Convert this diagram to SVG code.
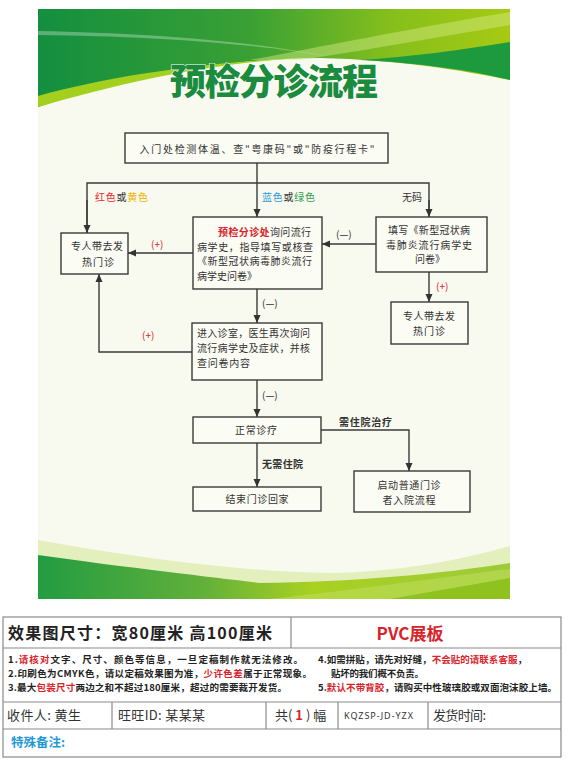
<svg xmlns="http://www.w3.org/2000/svg" width="570" height="764" viewBox="0 0 570 764">
<style>
.bx{fill:#fbfcf4;stroke:#3a3a3a;stroke-width:1.4}
.ln{fill:none;stroke:#3a3a3a;stroke-width:1.4}
.t{font-family:"Noto Sans CJK SC","Noto Sans",sans-serif;font-size:10px;fill:#333}
.c{text-anchor:middle}
.b{font-weight:bold}
.red{fill:#d9232a}
.tb{fill:none;stroke:#8a8a8a;stroke-width:1.2}
.s{font-family:"Noto Sans CJK SC","Noto Sans",sans-serif;font-size:9.5px;font-weight:bold;fill:#222}
.r3{font-family:"Noto Sans CJK SC","Noto Sans",sans-serif;font-size:13px;fill:#333}
</style>
<defs>
<marker id="ar" markerUnits="userSpaceOnUse" markerWidth="8" markerHeight="8" refX="8" refY="4" orient="auto">
<path d="M0,0.5 L8,4 L0,7.5 Z" fill="#333"/>
</marker>
<linearGradient id="gTop" x1="38" y1="0" x2="510" y2="0" gradientUnits="userSpaceOnUse">
<stop offset="0" stop-color="#138f3f"/><stop offset="0.45" stop-color="#3aa034"/><stop offset="0.75" stop-color="#86bf1c"/><stop offset="1" stop-color="#a6ca12"/>
</linearGradient>
<linearGradient id="gBot" x1="38" y1="0" x2="510" y2="0" gradientUnits="userSpaceOnUse">
<stop offset="0" stop-color="#229c42"/><stop offset="0.35" stop-color="#62b03a"/><stop offset="0.58" stop-color="#a9d022"/><stop offset="1" stop-color="#9ccb38"/>
</linearGradient>
</defs>
<rect width="570" height="764" fill="#fff"/>
<g id="board">
<rect x="38" y="9" width="472" height="590" fill="#f8f9ef"/>
<path d="M38,9 H510 V80 C460,70 400,60 320,58 C220,58 120,80 38,107 Z" fill="url(#gTop)"/>
<path d="M510,12 C430,25 330,45 250,60 L300,60 C380,48 450,35 510,25 Z" fill="#d8ec8a" opacity="0.45"/>
<path d="M38,31 C150,33 260,42 330,57 C260,44 150,36 38,35 Z" fill="#ffffff" opacity="0.3"/>
<path d="M510,42 C460,50 410,57 360,60 C420,63 470,70 510,80 Z" fill="#1e9a3e"/>
<path d="M38,96 C110,76 200,63 300,58 C200,64 110,86 38,107 Z" fill="#a3d01e"/>
<path d="M38,540 C150,560 250,572 330,573 C400,572 460,560 510,546 V599 H38 Z" fill="#e4efbe"/>
<path d="M38,555 C130,568 220,578 260,583 C350,582 440,574 510,563 V599 H38 Z" fill="url(#gBot)"/>
<path d="M270,599 C370,588 450,576 510,569 V599 Z" fill="#bedc5a" opacity="0.6"/>
<path d="M390,599 L510,578 V599 Z" fill="#8fc21e"/>
<text x="274" y="95" class="c" font-family="Noto Sans CJK SC, sans-serif" font-size="36" font-weight="900" fill="#1b8b3e" stroke="#ffffff" stroke-width="1" paint-order="stroke" textLength="208">预检分诊流程</text>
</g>
<g id="connectors">
<line class="ln" x1="257" y1="163" x2="257" y2="217" marker-end="url(#ar)"/>
<polyline class="ln" points="87,233 87,183 429,183 429,217" />
<line class="ln" x1="87" y1="200" x2="87" y2="233" marker-end="url(#ar)"/>
<line class="ln" x1="429" y1="200" x2="429" y2="217" marker-end="url(#ar)"/>
<line class="ln" x1="193" y1="253" x2="128" y2="253" marker-end="url(#ar)"/>
<line class="ln" x1="376" y1="244" x2="322" y2="244" marker-end="url(#ar)"/>
<line class="ln" x1="429" y1="272" x2="429" y2="302" marker-end="url(#ar)"/>
<line class="ln" x1="257" y1="289" x2="257" y2="323" marker-end="url(#ar)"/>
<polyline class="ln" points="192,352 99,352 99,274" marker-end="url(#ar)"/>
<line class="ln" x1="257" y1="380" x2="257" y2="417" marker-end="url(#ar)"/>
<polyline class="ln" points="321,430 409,430 409,471" marker-end="url(#ar)"/>
<line class="ln" x1="257" y1="443" x2="257" y2="487" marker-end="url(#ar)"/>
<text class="t" x="95" y="201" textLength="53"><tspan fill="#e8262a">红色</tspan>或<tspan fill="#f0b400">黄色</tspan></text>
<text class="t" x="262" y="201" textLength="53"><tspan fill="#2a9ad8">蓝色</tspan>或<tspan fill="#2aa050">绿色</tspan></text>
<text class="t" x="402" y="201">无码</text>
<text class="t red" x="151" y="248">(+)</text>
<text class="t" x="336" y="238">(—)</text>
<text class="t red" x="436" y="290">(+)</text>
<text class="t" x="262" y="307">(—)</text>
<text class="t red" x="142" y="339">(+)</text>
<text class="t" x="262" y="399">(—)</text>
<text class="t b" x="339" y="426" textLength="53">需住院治疗</text>
<text class="t b" x="262" y="468" textLength="41">无需住院</text>
</g>
<g id="n-entry">
<rect class="bx" x="125" y="133" width="263" height="30"/>
<text class="t c" x="257" y="153" font-size="11.5" textLength="235">入门处检测体温、查"粤康码"或"防疫行程卡"</text>
</g>
<g id="n-fever1">
<rect class="bx" x="61" y="233" width="67" height="41"/>
<text class="t c" x="97" y="250" textLength="52">专人带去发</text>
<text class="t c" x="98" y="266" textLength="32">热门诊</text>
</g>
<g id="n-triage">
<rect class="bx" x="193" y="217" width="129" height="72"/>
<text class="t" x="218" y="236" textLength="93"><tspan class="b red">预检分诊处</tspan>询问流行</text>
<text class="t" x="197" y="250.5" textLength="116">病学史，指导填写或核查</text>
<text class="t" x="197" y="265" textLength="115">《新型冠状病毒肺炎流行</text>
<text class="t" x="197" y="279.5">病学史问卷》</text>
</g>
<g id="n-nocode">
<rect class="bx" x="376" y="217" width="111" height="55"/>
<text class="t c" x="429" y="234" textLength="82">填写《新型冠状病</text>
<text class="t c" x="429" y="248.5" textLength="86">毒肺炎流行病学史</text>
<text class="t c" x="430" y="263">问卷》</text>
</g>
<g id="n-fever2">
<rect class="bx" x="391" y="302" width="77" height="42"/>
<text class="t c" x="429" y="320" textLength="52">专人带去发</text>
<text class="t c" x="429" y="335" textLength="32">热门诊</text>
</g>
<g id="n-clinic">
<rect class="bx" x="192" y="323" width="130" height="57"/>
<text class="t" x="197" y="337" textLength="113">进入诊室，医生再次询问</text>
<text class="t" x="197" y="352" textLength="113">流行病学史及症状，并核</text>
<text class="t" x="197" y="367" textLength="53">查问卷内容</text>
</g>
<g id="n-normal">
<rect class="bx" x="193" y="417" width="128" height="26"/>
<text class="t c" x="256" y="434" textLength="42">正常诊疗</text>
</g>
<g id="n-end">
<rect class="bx" x="193" y="487" width="128" height="24"/>
<text class="t c" x="257" y="503" textLength="63">结束门诊回家</text>
</g>
<g id="n-admit">
<rect class="bx" x="354" y="471" width="116" height="41"/>
<text class="t c" x="409" y="489" textLength="63">启动普通门诊</text>
<text class="t c" x="409" y="503.5" textLength="53">者入院流程</text>
</g>
<g id="table">
<rect class="tb" x="3" y="617" width="558" height="140"/>
<line class="tb" x1="3" y1="648" x2="561" y2="648"/>
<line class="tb" x1="3" y1="702" x2="561" y2="702"/>
<line class="tb" x1="3" y1="729" x2="561" y2="729"/>
<line class="tb" x1="291" y1="617" x2="291" y2="648"/>
<line class="tb" x1="112" y1="702" x2="112" y2="729"/>
<line class="tb" x1="266" y1="702" x2="266" y2="729"/>
<line class="tb" x1="338" y1="702" x2="338" y2="729"/>
<line class="tb" x1="428" y1="702" x2="428" y2="729"/>
<text x="8" y="639" font-family="Noto Sans CJK SC, sans-serif" font-size="16" font-weight="bold" fill="#222" textLength="264">效果图尺寸：宽80厘米  高100厘米</text>
<text x="410" y="640" text-anchor="middle" font-family="Noto Sans CJK SC, sans-serif" font-size="17" font-weight="bold" fill="#d9232a">PVC展板</text>
<text class="s" x="8" y="663" textLength="295">1.<tspan class="red">请核对</tspan>文字、尺寸、颜色等信息，一旦定稿制作就无法修改。</text>
<text class="s" x="8" y="677" textLength="304">2.印刷色为CMYK色，请以定稿效果图为准，<tspan class="red">少许色差</tspan>属于正常现象。</text>
<text class="s" x="8" y="691" textLength="279">3.最大<tspan class="red">包装尺寸</tspan>两边之和不超过180厘米，超过的需要裁开发货。</text>
<text class="s" x="318" y="663" textLength="209">4.如需拼贴，请先对好缝，<tspan class="red">不会贴的请联系客服</tspan>，</text>
<text class="s" x="331" y="677" textLength="93">贴坏的我们概不负责。</text>
<text class="s" x="318" y="691" textLength="239">5.<tspan class="red">默认不带背胶</tspan>，请购买中性玻璃胶或双面泡沫胶上墙。</text>
<text class="r3" x="7" y="720" textLength="74">收件人:  黄生</text>
<text class="r3" x="118" y="720" textLength="87">旺旺ID:  某某某</text>
<text class="r3" x="275" y="720">共(<tspan font-weight="bold" fill="#d9232a"> 1 </tspan>) 幅</text>
<text x="344" y="719" font-family="Noto Sans, sans-serif" font-size="9" fill="#333" textLength="69">KQZSP-JD-YZX</text>
<text class="r3" x="433" y="720" textLength="53">发货时间:</text>
<text x="11" y="747" font-family="Noto Sans CJK SC, sans-serif" font-size="12.5" font-weight="bold" fill="#1f9ad6">特殊备注:</text>
</g>
</svg>
